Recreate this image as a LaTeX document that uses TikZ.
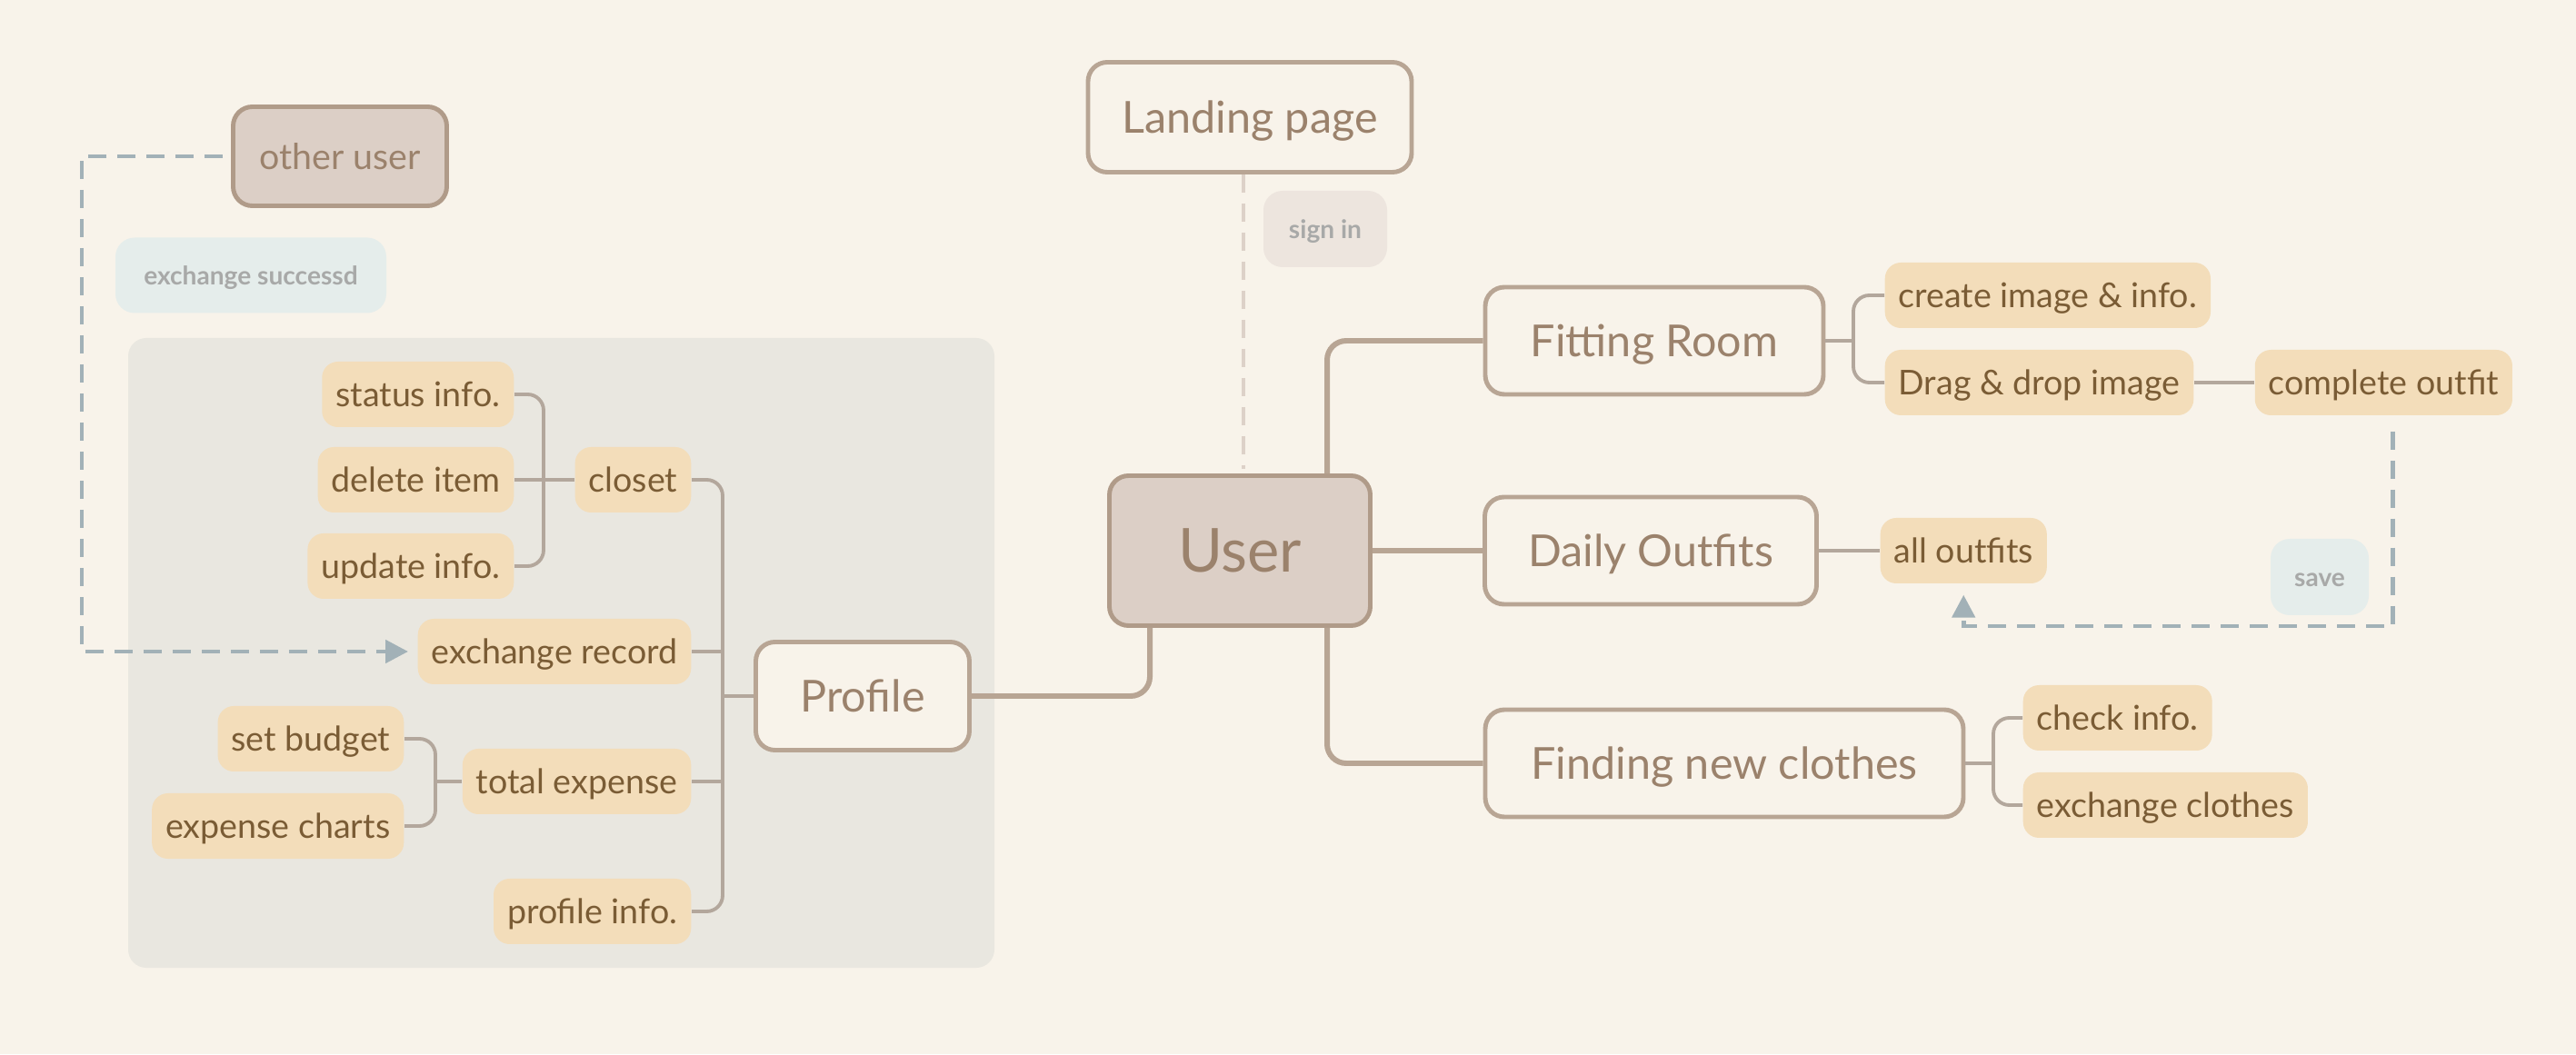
\documentclass[tikz,border=0pt]{standalone}
\usepackage{fontspec}
\setmainfont{Lato}
\usetikzlibrary{positioning,arrows.meta}

\definecolor{bgcream}{HTML}{F8F3EA}
\definecolor{panelgray}{HTML}{E9E7E0}
\definecolor{leaffill}{HTML}{F3DDBA}
\definecolor{leaftext}{HTML}{7A5C35}
\definecolor{mainline}{HTML}{B8A594}
\definecolor{maintext}{HTML}{9B826C}
\definecolor{hubfill}{HTML}{DCCFC6}
\definecolor{hubline}{HTML}{B09B89}
\definecolor{subline}{HTML}{B3A79C}
\definecolor{flowblue}{HTML}{A2B1B7}
\definecolor{signline}{HTML}{DDD1C8}
\definecolor{notefill}{HTML}{E5EDEB}
\definecolor{signfill}{HTML}{EDE5DE}
\definecolor{notetext}{HTML}{A8A9A8}

\begin{document}
\begin{tikzpicture}[
  main/.style={draw=mainline, line width=1.4pt, fill=bgcream, rounded corners=6pt, minimum height=1.18cm, text=maintext, font=\fontsize{13.8}{16}\selectfont, text height=12.9pt, text depth=3pt},
  hub/.style={main, fill=hubfill, draw=hubline},
  leaf/.style={fill=leaffill, rounded corners=5pt, minimum height=0.72cm, inner xsep=0.15cm, text=leaftext, font=\fontsize{10.7}{12}\selectfont, text height=10.2pt, text depth=2.5pt},
  note/.style={fill=notefill, rounded corners=6pt, minimum height=0.84cm, text=notetext, font=\fontsize{8}{10}\selectfont\bfseries, text height=7.7pt, text depth=2pt},
  link/.style={draw=mainline, line width=1.7pt, rounded corners=6pt},
  sublink/.style={draw=subline, line width=1.1pt, rounded corners=5pt},
  flow/.style={draw=flowblue, line width=1.4pt, dash pattern=on 0.2cm off 0.12cm},
  tip/.style={-{Triangle[length=2.5mm, width=2.5mm, fill=flowblue]}}
]
% Canvas
\fill[bgcream] (0,0) rectangle (28.34,11.6);
\useasboundingbox (0,0) rectangle (28.34,11.6);
\fill[panelgray, rounded corners=0.2cm] (1.41,0.95) rectangle (10.94,7.88);

% Centre and top
\node[hub, minimum width=2.87cm, minimum height=1.65cm, font=\fontsize{19}{22}\selectfont, text height=17.6pt, text depth=4pt] (user) at (13.64,5.54) {User};
\node[main, minimum width=3.56cm, minimum height=1.21cm] (landing) at (13.75,10.31) {Landing page};
\node[note, fill=signfill, minimum width=1.36cm] (signin) at (14.58,9.08) {sign in};

% Right branches
\node[main, minimum width=3.72cm] (fit) at (18.20,7.85) {Fitting Room};
\node[main, minimum width=3.65cm] (daily) at (18.16,5.54) {Daily Outfits};
\node[main, minimum width=5.26cm] (find) at (18.97,3.20) {Finding new clothes};

\node[leaf, anchor=west] (create) at (20.73,8.35) {create image \& info.};
\node[leaf, anchor=west] (drag) at (20.73,7.39) {Drag \& drop image};
\node[leaf, right=0.66cm of drag] (outfit) {complete outfit};
\node[leaf, right=0.67cm of daily] (allout) {all outfits};
\node[note, minimum width=1.08cm] (save) at (25.52,5.25) {save};
\node[leaf, anchor=west] (check) at (22.25,3.70) {check info.};
\node[leaf, anchor=west] (exch) at (22.25,2.74) {exchange clothes};

% Left branch: profile panel
\node[main, minimum width=2.35cm, minimum height=1.19cm] (prof) at (9.49,3.94) {Profile};
\node[leaf, anchor=east] (closet) at (7.61,6.32) {closet};
\node[leaf, anchor=east] (exrec) at (7.61,4.43) {exchange record};
\node[leaf, anchor=east] (tot) at (7.61,3.00) {total expense};
\node[leaf, anchor=east] (pinfo) at (7.61,1.57) {profile info.};
\node[leaf, anchor=east] (stat) at (5.66,7.26) {status info.};
\node[leaf, anchor=east] (del) at (5.66,6.32) {delete item};
\node[leaf, anchor=east] (upd) at (5.66,5.37) {update info.};
\node[leaf, anchor=east] (bud) at (4.45,3.47) {set budget};
\node[leaf, anchor=east] (chart) at (4.45,2.51) {expense charts};

% Other user
\node[hub, minimum width=2.35cm, minimum height=1.09cm, font=\fontsize{11.2}{14}\selectfont, text height=10.5pt, text depth=2.5pt] (ouser) at (3.74,9.88) {other user};
\node[note, minimum width=2.98cm, minimum height=0.83cm] (success) at (2.76,8.57) {exchange successd};

% Trunk points
\coordinate (ptrunk) at ([xshift=0.34cm]closet.east);
\coordinate (ctrunk) at ([xshift=0.32cm]stat.east);
\coordinate (etrunk) at ([xshift=0.34cm]bud.east);
\coordinate (ftrunk) at ([xshift=-0.34cm]create.west);
\coordinate (ntrunk) at ([xshift=-0.32cm]check.west);
\coordinate (swapbend) at (0.90,0);
\coordinate (savebend) at (0,4.71);

% Main links from User
\draw[link] ([xshift=0.96cm]user.north) |- (fit.west);
\draw[link] (user.east) -- (daily.west);
\draw[link] ([xshift=0.96cm]user.south) |- (find.west);
\draw[link] ([xshift=-0.99cm]user.south) |- (prof.east);

% Sub links
\draw[sublink] (closet.east) -| (ptrunk |- pinfo.east) -- (pinfo.east);
\draw[sublink] (exrec.east) -- (ptrunk |- exrec.east);
\draw[sublink] (tot.east) -- (ptrunk |- tot.east);
\draw[sublink] (prof.west) -- (ptrunk |- prof.west);
\draw[sublink] (stat.east) -| (ctrunk |- upd.east) -- (upd.east);
\draw[sublink] (del.east) -- (closet.west);
\draw[sublink] (bud.east) -| (etrunk |- chart.east) -- (chart.east);
\draw[sublink] (tot.west) -- (etrunk |- tot.west);
\draw[sublink] (create.west) -| (ftrunk |- drag.west) -- (drag.west);
\draw[sublink] (fit.east) -- (ftrunk |- fit.east);
\draw[sublink] (drag.east) -- (outfit.west);
\draw[sublink] (daily.east) -- (allout.west);
\draw[sublink] (check.west) -| (ntrunk |- exch.west) -- (exch.west);
\draw[sublink] (find.east) -- (ntrunk |- find.east);

% Dashed flows
\draw[flow, draw=signline, shorten >=0.05cm] ([xshift=-0.07cm]landing.south) -- ([xshift=-0.07cm]landing.south |- user.north);
\draw[flow, tip, shorten <=0.09cm, shorten >=0.1cm] (ouser.west) -| (swapbend |- exrec.west) -- (exrec.west);
\draw[flow, tip, shorten <=0.17cm, shorten >=0.12cm] ([xshift=0.10cm]outfit.south) |- (savebend -| allout.south) -- (allout.south);
\end{tikzpicture}
\end{document}
